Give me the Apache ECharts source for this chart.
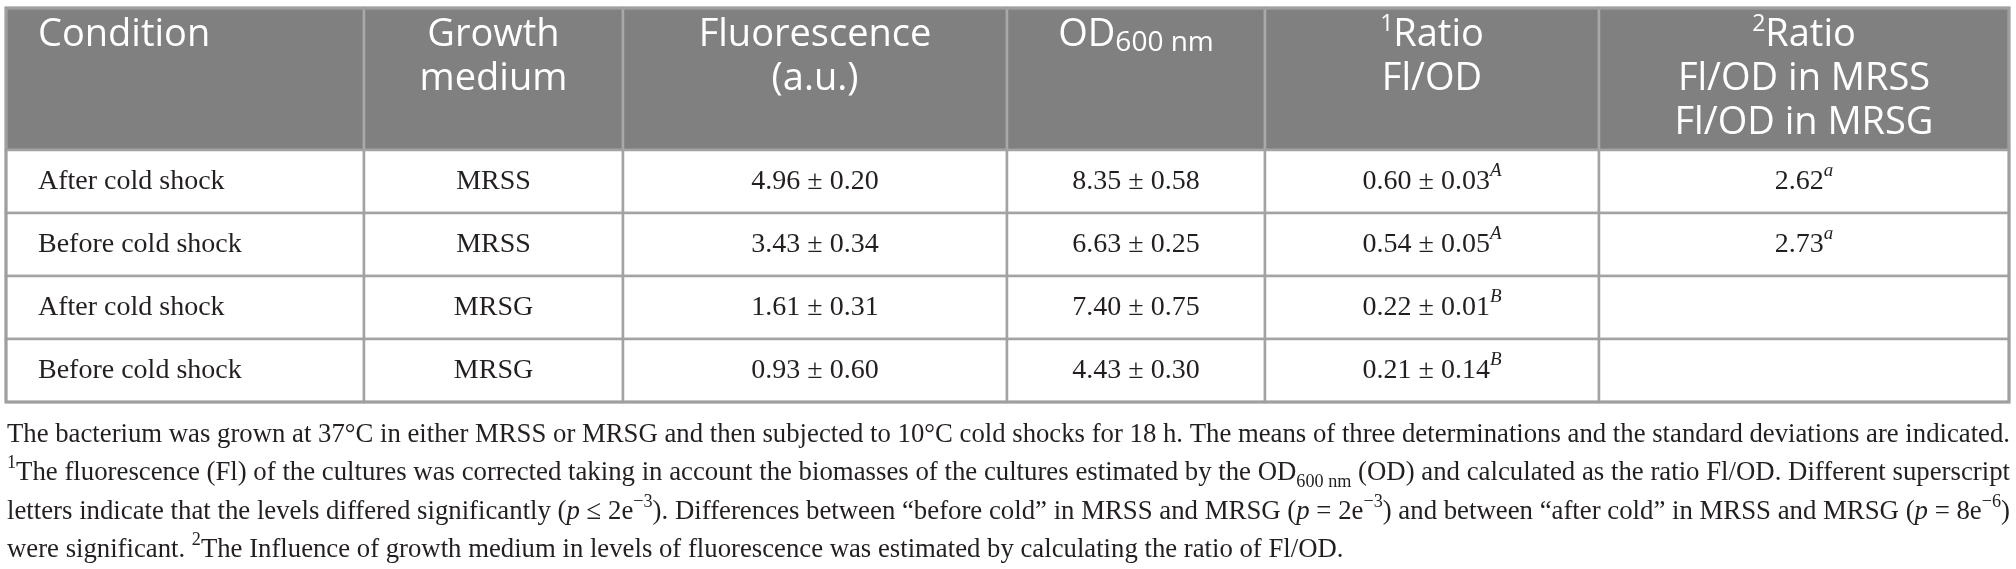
<!DOCTYPE html>
<html>
<head>
<meta charset="utf-8">
<script src="https://cdn.jsdelivr.net/npm/echarts@6/dist/echarts.min.js"></script>
<style>
html,body{margin:0;padding:0;background:#fff}
#main{width:2016px;height:569px}
</style>
</head>
<body>
<div id="main"></div>
<script>
// table data
var headerLabels = [
    'Condition',
    'Growth\nmedium',
    'Fluorescence\n(a.u.)',
    'OD{sub|600 nm}',
    '{sup|1}Ratio\nFl/OD',
    '{sup|2}Ratio\nFl/OD in MRSS\nFl/OD in MRSG'
];
var conditions = ['After cold shock', 'Before cold shock', 'After cold shock', 'Before cold shock'];
var media = ['MRSS', 'MRSS', 'MRSG', 'MRSG'];
var fluoMean = [4.96, 3.43, 1.61, 0.93];
var fluoSd = [0.20, 0.34, 0.31, 0.60];
var odMean = [8.35, 6.63, 7.40, 4.43];
var odSd = [0.58, 0.25, 0.75, 0.30];
var ratioMean = [0.60, 0.54, 0.22, 0.21];
var ratioSd = [0.03, 0.05, 0.01, 0.14];
var ratioGroup = ['A', 'A', 'B', 'B'];
var mediumRatio = [2.62, 2.73, null, null];
var mediumGroup = ['a', 'a', '', ''];

// footnote lines as [style, text] pieces
var footLines = [
    [['n', 'The bacterium was grown at 37°C in either MRSS or MRSG and then subjected to 10°C cold shocks for 18 h. The means of three determinations and the standard deviations are indicated.']],
    [['sup', '1'], ['n', 'The fluorescence (Fl) of the cultures was corrected taking in account the biomasses of the cultures estimated by the OD'], ['sub', '600 nm'], ['n', ' (OD) and calculated as the ratio Fl/OD. Different superscript']],
    [['n', 'letters indicate that the levels differed significantly ('], ['i', 'p'], ['n', ' ≤ 2e'], ['sup', '−3'], ['n', '). Differences between “before cold” in MRSS and MRSG ('], ['i', 'p'], ['n', ' = 2e'], ['sup', '−3'], ['n', ') and between “after cold” in MRSS and MRSG ('], ['i', 'p'], ['n', ' = 8e'], ['sup', '−6'], ['n', ')']],
    [['n', 'were significant. '], ['sup', '2'], ['n', 'The Influence of growth medium in levels of fluorescence was estimated by calculating the ratio of Fl/OD.']]
];

// layout
var COL_EDGES = [6, 364, 623, 1007, 1265, 1599, 2009];
var ROW_EDGES = [8, 150, 213, 276, 339, 402];
var FOOT_Y = [435, 473, 512, 550];
var FOOT_LEFT = 7;
var FOOT_RIGHT = 2010;

var SERIF = 'Liberation Serif';
var SANS = 'Open Sans';
var INK = '#231f20';

function pm(m, s) {
    return m.toFixed(2) + ' ± ' + s.toFixed(2);
}
function bodyText(c, i) {
    if (c === 0) return conditions[i];
    if (c === 1) return media[i];
    if (c === 2) return pm(fluoMean[i], fluoSd[i]);
    if (c === 3) return pm(odMean[i], odSd[i]);
    if (c === 4) return pm(ratioMean[i], ratioSd[i]) + '{supi|' + ratioGroup[i] + '}';
    if (mediumRatio[i] === null) return '';
    return mediumRatio[i].toFixed(2) + '{supi|' + mediumGroup[i] + '}';
}

var headRich = {
    sub: {fontSize: 28, lineHeight: 30, verticalAlign: 'bottom', fontFamily: SANS, fill: '#fff'},
    sup: {fontSize: 23, lineHeight: 18, verticalAlign: 'top', fontFamily: SANS, fill: '#fff'}
};
var bodyRich = {
    supi: {fontSize: 19, lineHeight: 20, verticalAlign: 'top', fontStyle: 'italic', fontFamily: SERIF, fill: INK}
};

function renderCell(params, api) {
    var c = api.value(0), r = api.value(1);
    var p0 = api.coord([COL_EDGES[c], ROW_EDGES[r]]);
    var p1 = api.coord([COL_EDGES[c + 1], ROW_EDGES[r + 1]]);
    var w = p1[0] - p0[0], h = p1[1] - p0[1];
    var head = r === 0;
    var left = c === 0;
    var txt = head ? headerLabels[c] : bodyText(c, r - 1);
    return {
        type: 'group',
        children: [{
            type: 'rect',
            shape: {x: p0[0], y: p0[1], width: w, height: h},
            style: {fill: head ? '#808080' : '#fff', stroke: head ? '#a9a9a9' : '#a3a3a3', lineWidth: 2.5}
        }, {
            type: 'text',
            x: left ? p0[0] + 32 : p0[0] + w / 2,
            y: head ? p0[1] + 5 : p0[1] + h / 2,
            style: {
                text: txt,
                rich: head ? headRich : bodyRich,
                fontFamily: head ? SANS : SERIF,
                fontSize: head ? 38 : 28,
                lineHeight: head ? 44 : 40,
                fill: head ? '#fff' : INK,
                align: left ? 'left' : 'center',
                verticalAlign: head ? 'top' : 'middle'
            }
        }]
    };
}

function renderFrame(params, api) {
    var p0 = api.coord([COL_EDGES[0], ROW_EDGES[0]]);
    var p1 = api.coord([COL_EDGES[COL_EDGES.length - 1], ROW_EDGES[ROW_EDGES.length - 1]]);
    return {
        type: 'rect',
        shape: {x: p0[0], y: p0[1], width: p1[0] - p0[0], height: p1[1] - p0[1]},
        style: {fill: 'none', stroke: '#9f9f9f', lineWidth: 3}
    };
}

var cells = [];
for (var r = 0; r < ROW_EDGES.length - 1; r++) {
    for (var c = 0; c < COL_EDGES.length - 1; c++) {
        cells.push([c, r]);
    }
}

// footnote: fit each justified line to the table width
var footRich = {
    n: {fontSize: 28, fontFamily: SERIF, fill: INK, lineHeight: 38, verticalAlign: 'middle'},
    i: {fontSize: 28, fontFamily: SERIF, fontStyle: 'italic', fill: INK, lineHeight: 38, verticalAlign: 'middle'},
    sup: {fontSize: 19, fontFamily: SERIF, fill: INK, lineHeight: 18, verticalAlign: 'top'},
    sub: {fontSize: 19, fontFamily: SERIF, fill: INK, lineHeight: 24, verticalAlign: 'bottom'}
};
var ctx = document.createElement('canvas').getContext('2d');
function pieceWidth(p) {
    var st = footRich[p[0]];
    ctx.font = (st.fontStyle ? st.fontStyle + ' ' : '') + st.fontSize + 'px "' + SERIF + '"';
    return ctx.measureText(p[1]).width;
}
var footGraphics = [];
var firstScale = 1;
footLines.forEach(function (line, k) {
    var wsum = 0, str = '';
    line.forEach(function (p) {
        wsum += pieceWidth(p);
        str += '{' + p[0] + '|' + p[1] + '}';
    });
    var sx = (FOOT_RIGHT - FOOT_LEFT) / wsum;
    if (k === 0) firstScale = sx;
    if (k === footLines.length - 1) sx = firstScale;
    footGraphics.push({
        type: 'text',
        x: FOOT_LEFT,
        y: FOOT_Y[k],
        scaleX: sx,
        style: {text: str, rich: footRich, align: 'left', verticalAlign: 'middle', fill: INK}
    });
});

var chart = echarts.init(document.getElementById('main'));
chart.setOption({
    animation: false,
    grid: {left: 0, top: 0, width: 2016, height: 569},
    xAxis: {type: 'value', min: 0, max: 2016, show: false},
    yAxis: {type: 'value', min: 0, max: 569, inverse: true, show: false},
    series: [{
        type: 'custom',
        renderItem: renderCell,
        data: cells,
        silent: true
    }, {
        type: 'custom',
        renderItem: renderFrame,
        data: [[0, 0]],
        silent: true
    }],
    graphic: footGraphics
});
</script>
</body>
</html>
